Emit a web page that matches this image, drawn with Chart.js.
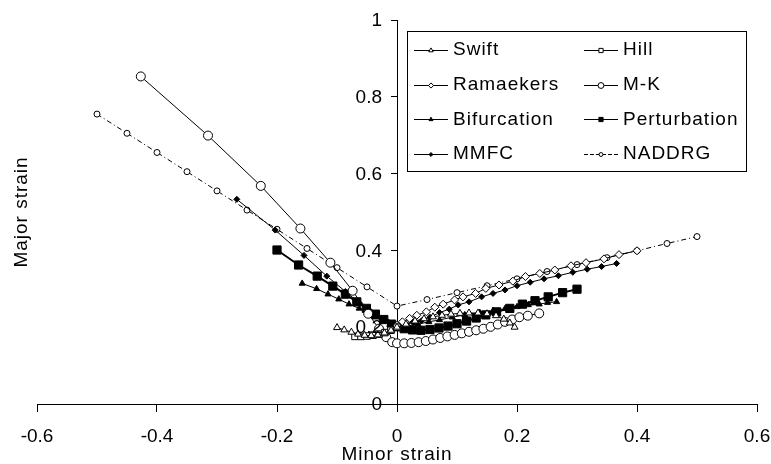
<!DOCTYPE html>
<html>
<head>
<meta charset="utf-8">
<title>Forming limit curves</title>
<script src="https://cdn.jsdelivr.net/npm/chart.js@4.4.1/dist/chart.umd.min.js"></script>
<style>
  html, body { margin: 0; padding: 0; background: #fff; }
</style>
</head>
<body>
<canvas id="fldChart" width="771" height="464"></canvas>
<script>
// Axis ranges / ticks
const xTicks = [-0.6, -0.4, -0.2, 0, 0.2, 0.4, 0.6];
const yTicks = [0, 0.2, 0.4, 0.6, 0.8, 1];

// Swift
const swiftX = [-0.100, -0.088, -0.076, -0.065, -0.054, -0.043, -0.032, -0.021, -0.010, 0, 0.015, 0.030, 0.045, 0.060, 0.075, 0.090, 0.105, 0.120, 0.135, 0.150, 0.165, 0.178, 0.188, 0.196];
const swiftY = [0.199, 0.193, 0.187, 0.182, 0.179, 0.178, 0.180, 0.185, 0.192, 0.200, 0.208, 0.216, 0.222, 0.227, 0.231, 0.234, 0.236, 0.237, 0.237, 0.235, 0.230, 0.221, 0.211, 0.200];

// Hill
const hillX = [-0.070, -0.060, -0.050, -0.040, -0.030, -0.020, -0.010, 0];
const hillY = [0.176, 0.176, 0.177, 0.179, 0.182, 0.186, 0.192, 0.200];

// Ramaekers
const ramX = [0, 0.009, 0.021, 0.033, 0.049, 0.063, 0.077, 0.096, 0.110, 0.131, 0.148, 0.170, 0.193, 0.214, 0.238, 0.263, 0.290, 0.315, 0.345, 0.370, 0.400];
const ramY = [0.205, 0.214, 0.223, 0.231, 0.240, 0.252, 0.260, 0.271, 0.279, 0.288, 0.301, 0.310, 0.320, 0.332, 0.340, 0.349, 0.360, 0.368, 0.378, 0.389, 0.399];

// M-K
const mkX = [-0.427, -0.315, -0.227, -0.161, -0.111, -0.074, -0.048, -0.030, -0.018, -0.008, 0, 0.012, 0.024, 0.036, 0.048, 0.060, 0.072, 0.084, 0.096, 0.108, 0.120, 0.132, 0.144, 0.156, 0.168, 0.180, 0.192, 0.204, 0.218, 0.237];
const mkY = [0.853, 0.699, 0.568, 0.457, 0.368, 0.295, 0.235, 0.196, 0.174, 0.161, 0.158, 0.158, 0.159, 0.161, 0.164, 0.168, 0.172, 0.176, 0.180, 0.184, 0.188, 0.192, 0.196, 0.201, 0.207, 0.214, 0.220, 0.226, 0.230, 0.236];

// Bifurcation
const bifX = [-0.158, -0.134, -0.115, -0.097, -0.080, -0.063, -0.049, -0.036, -0.024, -0.012, 0, 0.018, 0.035, 0.053, 0.071, 0.092, 0.113, 0.138, 0.160, 0.180, 0.200, 0.219, 0.237, 0.251, 0.266];
const bifY = [0.314, 0.300, 0.286, 0.273, 0.260, 0.249, 0.237, 0.226, 0.216, 0.207, 0.200, 0.204, 0.208, 0.214, 0.219, 0.226, 0.232, 0.238, 0.243, 0.248, 0.253, 0.258, 0.260, 0.264, 0.266];

// Perturbation
const pertX = [-0.200, -0.164, -0.133, -0.107, -0.086, -0.067, -0.051, -0.036, -0.022, -0.009, 0, 0.012, 0.026, 0.040, 0.055, 0.070, 0.085, 0.100, 0.116, 0.132, 0.148, 0.166, 0.188, 0.209, 0.230, 0.252, 0.276, 0.300];
const pertY = [0.401, 0.362, 0.333, 0.307, 0.286, 0.266, 0.249, 0.234, 0.220, 0.208, 0.201, 0.196, 0.193, 0.192, 0.194, 0.198, 0.203, 0.209, 0.216, 0.224, 0.232, 0.240, 0.249, 0.260, 0.269, 0.279, 0.290, 0.299];

// MMFC
const mmfcX = [-0.267, -0.203, -0.155, -0.117, -0.086, -0.062, -0.043, -0.027, -0.014, 0, 0.013, 0.027, 0.041, 0.055, 0.071, 0.087, 0.102, 0.120, 0.141, 0.160, 0.180, 0.200, 0.222, 0.245, 0.269, 0.293, 0.317, 0.341, 0.366];
const mmfcY = [0.533, 0.453, 0.387, 0.333, 0.293, 0.262, 0.240, 0.224, 0.213, 0.205, 0.208, 0.212, 0.217, 0.226, 0.238, 0.247, 0.258, 0.266, 0.279, 0.288, 0.297, 0.308, 0.317, 0.326, 0.334, 0.343, 0.351, 0.358, 0.366];

// NADDRG
const naddrgX = [-0.50, -0.45, -0.40, -0.35, -0.30, -0.25, -0.20, -0.15, -0.10, -0.05, 0, 0.05, 0.10, 0.15, 0.20, 0.25, 0.30, 0.35, 0.40, 0.45, 0.50];
const naddrgY = [0.755, 0.705, 0.655, 0.605, 0.555, 0.505, 0.455, 0.405, 0.355, 0.305, 0.255, 0.272, 0.290, 0.308, 0.326, 0.345, 0.363, 0.381, 0.399, 0.418, 0.436];

const FONT = '"Liberation Sans", Arial, sans-serif';

function toPoints(xs, ys) {
  return xs.map((x, i) => ({ x: x, y: ys[i] }));
}

function makeSet(label, xs, ys, style, radius, filled, lineWidth, dash) {
  return {
    label: label,
    data: toPoints(xs, ys),
    showLine: true,
    borderColor: '#000',
    borderWidth: lineWidth,
    borderDash: dash,
    pointStyle: style,
    pointRadius: radius,
    pointHoverRadius: radius,
    pointBorderWidth: 1,
    pointBorderColor: '#000',
    pointBackgroundColor: filled ? '#000' : '#fff',
    backgroundColor: filled ? '#000' : '#fff',
    tension: 0
  };
}

const datasets = [
  makeSet('Swift', swiftX, swiftY, 'triangle', 4, false, 1, []),
  makeSet('Hill', hillX, hillY, 'rect', 4.6, false, 1, []),
  makeSet('Ramaekers', ramX, ramY, 'rectRot', 4, false, 1, []),
  makeSet('M-K', mkX, mkY, 'circle', 4.5, false, 1, []),
  makeSet('Bifurcation', bifX, bifY, 'triangle', 3.5, true, 1, []),
  makeSet('Perturbation', pertX, pertY, 'rect', 5.8, true, 2, []),
  makeSet('MMFC', mmfcX, mmfcY, 'rectRot', 3, true, 1, []),
  makeSet('NADDRG', naddrgX, naddrgY, 'circle', 3, false, 1, [5, 3, 1, 3])
];

// small marker for the legend box
function drawMarker(ctx, style, r, filled, x, y) {
  ctx.beginPath();
  if (style === 'triangle') {
    ctx.moveTo(x, y - r);
    ctx.lineTo(x + r * 0.866, y + r * 0.5);
    ctx.lineTo(x - r * 0.866, y + r * 0.5);
    ctx.closePath();
  } else if (style === 'rect') {
    const s = r * Math.SQRT1_2;
    ctx.rect(x - s, y - s, 2 * s, 2 * s);
  } else if (style === 'rectRot') {
    ctx.moveTo(x, y - r);
    ctx.lineTo(x + r, y);
    ctx.lineTo(x, y + r);
    ctx.lineTo(x - r, y);
    ctx.closePath();
  } else {
    ctx.arc(x, y, r, 0, Math.PI * 2);
  }
  ctx.fillStyle = filled ? '#000' : '#fff';
  ctx.fill();
  ctx.lineWidth = 1;
  ctx.strokeStyle = '#000';
  ctx.stroke();
}

const extrasPlugin = {
  id: 'extras',
  afterDraw(chart) {
    const ctx = chart.ctx;
    const xScale = chart.scales.x;
    const yScale = chart.scales.y;
    ctx.save();
    ctx.fillStyle = '#000';

    // y tick labels, left of the centred axis
    ctx.font = '19px ' + FONT;
    ctx.textAlign = 'right';
    ctx.textBaseline = 'middle';
    const axisX = xScale.getPixelForValue(0);
    yTicks.forEach(v => {
      ctx.fillText(fmt(v), axisX - 15, yScale.getPixelForValue(v) + 1);
    });

    // axis titles
    ctx.letterSpacing = '1px';
    ctx.textAlign = 'center';
    ctx.fillText('Minor strain', axisX, 455);
    ctx.save();
    ctx.translate(22, 212);
    ctx.rotate(-Math.PI / 2);
    ctx.fillText('Major strain', 0, 0);
    ctx.restore();

    // legend box
    ctx.fillStyle = '#fff';
    ctx.fillRect(408, 32, 338, 139);
    ctx.strokeStyle = '#000';
    ctx.lineWidth = 1;
    ctx.strokeRect(407.5, 31.5, 339, 140);

    ctx.textAlign = 'left';
    const cols = [414, 584];
    chart.data.datasets.forEach((ds, i) => {
      const col = i % 2;
      const row = Math.floor(i / 2);
      const x0 = cols[col];
      const y = 50 + row * 34.7;
      ctx.save();
      ctx.strokeStyle = '#000';
      ctx.lineWidth = 1;
      ctx.setLineDash(ds.borderDash && ds.borderDash.length ? [4, 2] : []);
      ctx.beginPath();
      ctx.moveTo(x0, Math.round(y) + 0.5);
      ctx.lineTo(x0 + 34, Math.round(y) + 0.5);
      ctx.stroke();
      ctx.restore();
      const filled = ds.pointBackgroundColor === '#000';
      const r = Math.min(ds.pointRadius, 4.6) * 0.65;
      drawMarker(ctx, ds.pointStyle, r, filled, x0 + 17, Math.round(y) + 0.5);
      ctx.fillStyle = '#000';
      ctx.fillText(ds.label, x0 + 39, y);
    });
    ctx.restore();
  }
};

function fmt(v) {
  return String(Math.round(v * 10) / 10);
}

// keep the plot box fixed: no automatic room for overhanging labels
function noPad(scale) {
  scale.paddingLeft = 0;
  scale.paddingRight = 0;
  scale.paddingTop = 0;
  scale.paddingBottom = 0;
}

const ctx = document.getElementById('fldChart').getContext('2d');
const fldChart = new Chart(ctx, {
  type: 'scatter',
  data: { datasets: datasets },
  options: {
    responsive: false,
    animation: false,
    layout: {
      padding: { left: 37, right: 14, top: 20, bottom: 60 }
    },
    plugins: {
      legend: { display: false },
      tooltip: { enabled: false }
    },
    scales: {
      x: {
        type: 'linear',
        min: xTicks[0],
        max: xTicks[xTicks.length - 1],
        position: { y: 0 },
        afterFit: noPad,
        border: { display: true, color: '#000', width: 1 },
        grid: { drawOnChartArea: false, drawTicks: true, tickLength: 7, color: '#000' },
        ticks: {
          stepSize: 0.2,
          color: '#000',
          padding: 14,
          maxRotation: 0,
          font: { family: FONT, size: 19 },
          callback: fmt
        }
      },
      y: {
        type: 'linear',
        min: yTicks[0],
        max: yTicks[yTicks.length - 1],
        position: { x: 0 },
        afterFit: noPad,
        border: { display: true, color: '#000', width: 1 },
        grid: { drawOnChartArea: false, drawTicks: true, tickLength: 6, color: '#000' },
        ticks: {
          stepSize: 0.2,
          display: false
        }
      }
    }
  },
  plugins: [extrasPlugin]
});
</script>
</body>
</html>
